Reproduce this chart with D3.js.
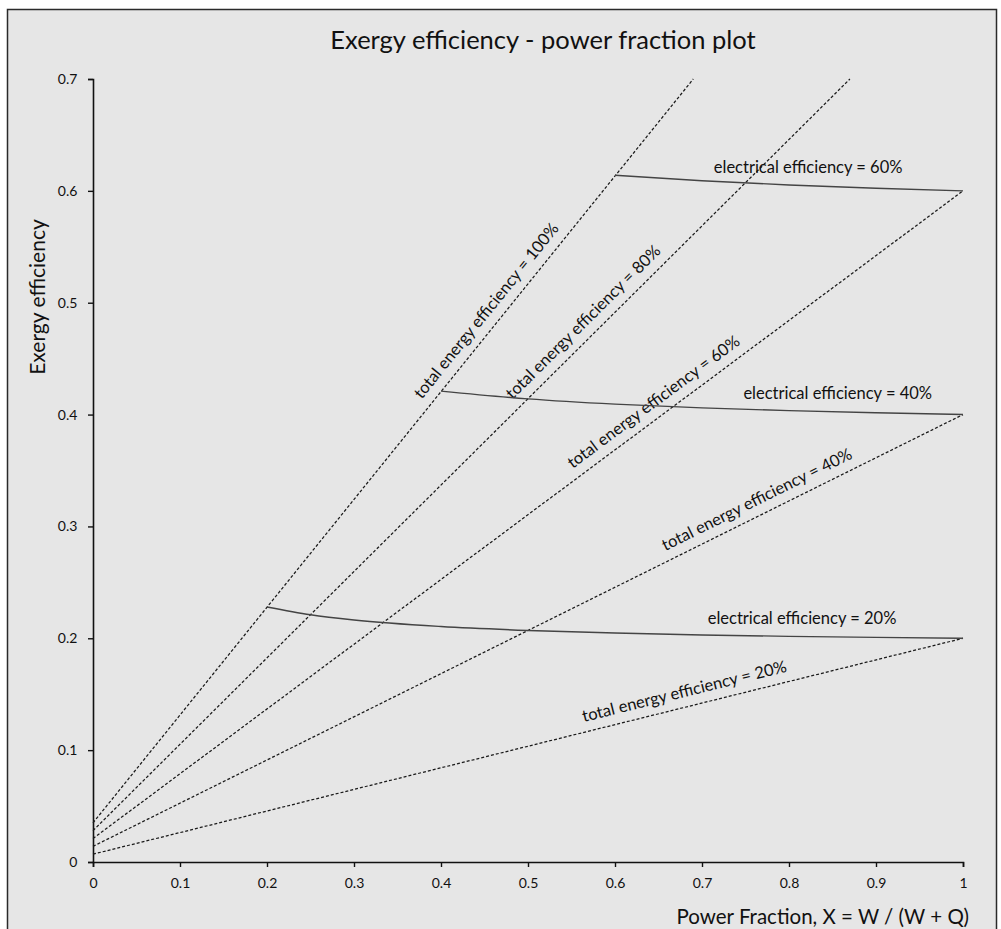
<!DOCTYPE html>
<html>
<head>
<meta charset="utf-8">
<script src="https://cdn.jsdelivr.net/npm/d3@7"></script>
<style>
  html, body { margin: 0; padding: 0; background: #ffffff; }
  svg { display: block; }
  text { font-family: Lato, "Open Sans", sans-serif; fill: #111; }
</style>
</head>
<body>
<svg id="chart" width="1001" height="929"></svg>
<script>
// ---- Data ----
const xTicks = [0, 0.1, 0.2, 0.3, 0.4, 0.5, 0.6, 0.7, 0.8, 0.9, 1];
const yTicks = [0, 0.1, 0.2, 0.3, 0.4, 0.5, 0.6, 0.7];

// total energy efficiency lines (straight, dashed): start at X=0, end point
const totalEff     = [1.0, 0.8, 0.6, 0.4, 0.2];
const totalStartY  = [0.035, 0.028, 0.021, 0.014, 0.007];
const totalEndX    = [0.69, 0.87, 1.0, 1.0, 1.0];
const totalEndY    = [0.70, 0.70, 0.60, 0.40, 0.20];
const totalLabelX  = [0.466, 0.576, 0.655, 0.771, 0.684];

// electrical efficiency curves (solid)
const elecEff = [0.6, 0.4, 0.2];
const elec60X = [0.6, 0.7, 0.8, 0.9, 1.0];
const elec60Y = [0.614, 0.609, 0.6053, 0.6023, 0.600];
const elec40X = [0.4, 0.5, 0.6, 0.7, 0.8, 0.9, 1.0];
const elec40Y = [0.421, 0.414, 0.4093, 0.406, 0.4035, 0.4016, 0.400];
const elec20X = [0.2, 0.25, 0.3, 0.4, 0.5, 0.6, 0.7, 0.8, 0.9, 1.0];
const elec20Y = [0.228, 0.221, 0.2163, 0.2105, 0.207, 0.2047, 0.203, 0.20175, 0.2008, 0.200];
const elecLabelX = [0.822, 0.856, 0.815];
const elecLabelY = [0.616, 0.414, 0.2125];

// ---- Drawing ----
const svg = d3.select("#chart");

svg.append("rect")
  .attr("x", 7.5).attr("y", 9.5)
  .attr("width", 989).attr("height", 940)
  .attr("fill", "#e6e6e6")
  .attr("stroke", "#2a2a2a").attr("stroke-width", 1.5);

const x = d3.scaleLinear().domain([0, 1]).range([93, 963]);
const y = d3.scaleLinear().domain([0, 0.7]).range([862, 79]);

// title
svg.append("text")
  .attr("x", 543).attr("y", 49)
  .attr("text-anchor", "middle")
  .style("font-size", "25.5px")
  .text("Exergy efficiency - power fraction plot");

// axes
const xAxis = d3.axisBottom(x).tickValues(xTicks).tickSize(5).tickSizeOuter(5)
  .tickFormat(d => d === 0 ? "0" : d === 1 ? "1" : d3.format(".1f")(d));
const yAxis = d3.axisLeft(y).tickValues(yTicks).tickSize(5).tickSizeOuter(5)
  .tickFormat(d => d === 0 ? "0" : d3.format(".1f")(d));

const gx = svg.append("g").attr("transform", `translate(0,${y(0)})`).call(xAxis);
const gy = svg.append("g").attr("transform", `translate(${x(0)},0)`).call(yAxis);
[gx, gy].forEach(g => {
  g.select(".domain").attr("stroke", "#111").attr("stroke-width", 1.6);
  g.selectAll(".tick line").attr("stroke", "#111").attr("stroke-width", 1.4);
  g.selectAll(".tick text").style("font-family", "Lato, sans-serif").style("font-size", "14px").attr("fill", "#222");
});
gx.selectAll(".tick text").attr("dy", "1.3em");
gy.selectAll(".tick text").attr("dx", "-0.55em");

// axis titles
svg.append("text")
  .attr("x", 969).attr("y", 924)
  .attr("text-anchor", "end")
  .style("font-size", "20.5px")
  .text("Power Fraction, X = W / (W + Q)");

svg.append("text")
  .attr("transform", `translate(45,297) rotate(-90)`)
  .attr("text-anchor", "middle")
  .style("font-size", "21px")
  .text("Exergy efficiency");

// total energy efficiency lines
const lineGen = d3.line().x(d => x(d[0])).y(d => y(d[1]));
totalEff.forEach((e, i) => {
  const pts = [[0, totalStartY[i]], [totalEndX[i], totalEndY[i]]];
  svg.append("path")
    .attr("d", lineGen(pts))
    .attr("fill", "none")
    .attr("stroke", "#1a1a1a")
    .attr("stroke-width", 1.25)
    .attr("stroke-dasharray", "3,2");

  // label parallel to line
  const x0 = x(0), y0 = y(totalStartY[i]);
  const x1 = x(totalEndX[i]), y1 = y(totalEndY[i]);
  const ang = Math.atan2(y1 - y0, x1 - x0) * 180 / Math.PI;
  const t = totalLabelX[i] / totalEndX[i];
  const px = x0 + (x1 - x0) * t, py = y0 + (y1 - y0) * t;
  svg.append("text")
    .attr("transform", `translate(${px},${py}) rotate(${ang})`)
    .attr("text-anchor", "middle")
    .attr("y", -10)
    .style("font-size", "16.5px")
    .text(`total energy efficiency = ${Math.round(e * 100)}%`);
});

// electrical efficiency curves
const curveGen = d3.line().x(d => x(d[0])).y(d => y(d[1])).curve(d3.curveMonotoneX);
const elecX = [elec60X, elec40X, elec20X];
const elecY = [elec60Y, elec40Y, elec20Y];
elecEff.forEach((e, i) => {
  const pts = elecX[i].map((v, j) => [v, elecY[i][j]]);
  svg.append("path")
    .attr("d", curveGen(pts))
    .attr("fill", "none")
    .attr("stroke", "#444")
    .attr("stroke-width", 1.4);
  svg.append("text")
    .attr("x", x(elecLabelX[i])).attr("y", y(elecLabelY[i]))
    .attr("text-anchor", "middle")
    .style("font-size", "16.5px")
    .text(`electrical efficiency = ${Math.round(e * 100)}%`);
});
</script>
</body>
</html>
